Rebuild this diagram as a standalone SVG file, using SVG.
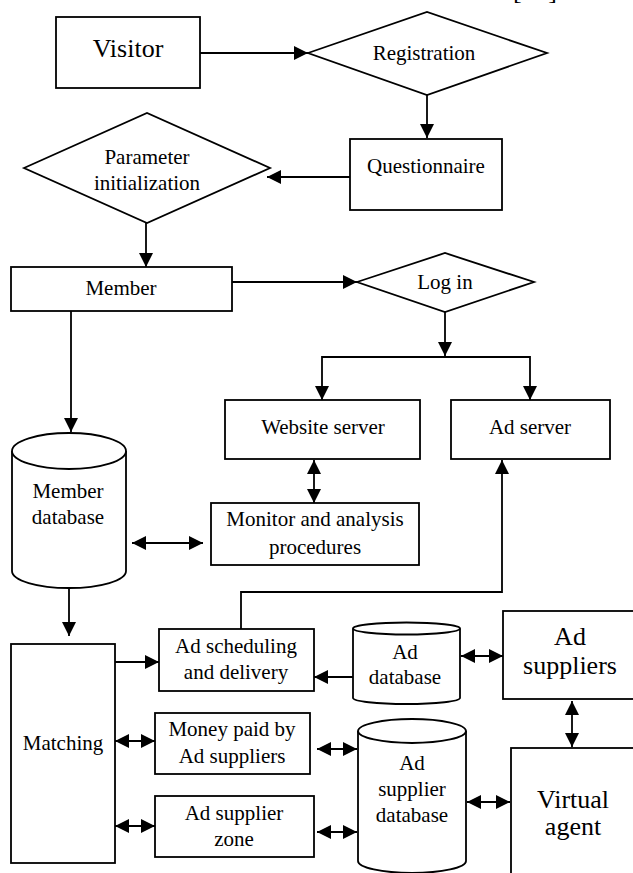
<svg xmlns="http://www.w3.org/2000/svg" width="633" height="873" viewBox="0 0 633 873">
<style>
.s{fill:#fff;stroke:#000;stroke-width:1.8}
.c{fill:none;stroke:#000;stroke-width:1.8}
text{font-family:"Liberation Serif","Times New Roman","Liberation Sans",serif;font-size:21px;fill:#000;text-anchor:middle}
.b{font-size:26px}
</style>
<defs>
<marker id="a" markerUnits="userSpaceOnUse" markerWidth="14" markerHeight="14" refX="14" refY="7" orient="auto-start-reverse" viewBox="0 0 14 14"><path d="M0,0 L14,7 L0,14 z" fill="#000"/></marker>
</defs>
<text class="b" x="513" y="-1.5" style="text-anchor:start">[</text>
<text class="b" x="557" y="-1.5" style="text-anchor:end">]</text>
<g id="connectors">
<line class="c" x1="200" y1="53" x2="308" y2="53" marker-end="url(#a)"/>
<line class="c" x1="427" y1="95" x2="427" y2="138" marker-end="url(#a)"/>
<line class="c" x1="350" y1="177" x2="267" y2="177" marker-end="url(#a)"/>
<line class="c" x1="146" y1="223" x2="146" y2="267" marker-end="url(#a)"/>
<line class="c" x1="232" y1="282" x2="357" y2="282" marker-end="url(#a)"/>
<line class="c" x1="445" y1="312" x2="445" y2="356" marker-end="url(#a)"/>
<polyline class="c" points="322,400 322,357 530,357 530,400" marker-start="url(#a)" marker-end="url(#a)"/>
<line class="c" x1="71" y1="311" x2="71" y2="432" marker-end="url(#a)"/>
<line class="c" x1="314" y1="460" x2="314" y2="503" marker-start="url(#a)" marker-end="url(#a)"/>
<line class="c" x1="132" y1="543" x2="203" y2="543" marker-start="url(#a)" marker-end="url(#a)"/>
<polyline class="c" points="241,629 241,592 502,592 502,460" marker-end="url(#a)"/>
<line class="c" x1="69" y1="588" x2="69" y2="636" marker-end="url(#a)"/>
<line class="c" x1="115" y1="662" x2="159" y2="662" marker-end="url(#a)"/>
<line class="c" x1="353" y1="677" x2="314" y2="677" marker-end="url(#a)"/>
<line class="c" x1="461" y1="656" x2="503" y2="656" marker-start="url(#a)" marker-end="url(#a)"/>
<line class="c" x1="572" y1="701" x2="572" y2="747" marker-start="url(#a)" marker-end="url(#a)"/>
<line class="c" x1="115" y1="741" x2="155" y2="741" marker-start="url(#a)" marker-end="url(#a)"/>
<line class="c" x1="317" y1="749" x2="357" y2="749" marker-start="url(#a)" marker-end="url(#a)"/>
<line class="c" x1="115" y1="826" x2="155" y2="826" marker-start="url(#a)" marker-end="url(#a)"/>
<line class="c" x1="317" y1="832" x2="357" y2="832" marker-start="url(#a)" marker-end="url(#a)"/>
<line class="c" x1="467" y1="802" x2="510" y2="802" marker-start="url(#a)" marker-end="url(#a)"/>
</g>
<g id="visitor"><rect class="s" x="56" y="17" width="144" height="71"/><text class="b" x="128" y="57">Visitor</text></g>
<g id="registration"><polygon class="s" points="308,53 427,12 547,53 427,95"/><text x="424" y="60">Registration</text></g>
<g id="questionnaire"><rect class="s" x="350" y="139" width="152" height="71"/><text x="426" y="173">Questionnaire</text></g>
<g id="parameter"><polygon class="s" points="24,168 147,113 270,168 147,223"/><text x="147" y="164">Parameter</text><text x="147" y="190">initialization</text></g>
<g id="member"><rect class="s" x="11" y="267" width="221" height="44"/><text x="121" y="295">Member</text></g>
<g id="login"><polygon class="s" points="357,282 445,253 534,282 445,312"/><text x="445" y="289">Log in</text></g>
<g id="website"><rect class="s" x="225" y="400" width="195" height="59"/><text x="323" y="434">Website server</text></g>
<g id="adserver"><rect class="s" x="451" y="400" width="159" height="59"/><text x="530" y="434">Ad server</text></g>
<g id="memberdb"><path class="s" d="M12,451 L12,571 A57,17 0 0 0 126,571 L126,451"/><ellipse class="s" cx="69" cy="451" rx="57" ry="18"/><text x="68" y="498">Member</text><text x="68" y="524">database</text></g>
<g id="monitor"><rect class="s" x="211" y="503" width="208" height="62"/><text x="315" y="526">Monitor and analysis</text><text x="315" y="554">procedures</text></g>
<g id="matching"><rect class="s" x="11" y="644" width="104" height="219"/><text x="63" y="750">Matching</text></g>
<g id="adscheduling"><rect class="s" x="159" y="629" width="155" height="62"/><text x="236" y="653">Ad scheduling</text><text x="236" y="679">and delivery</text></g>
<g id="addb"><path class="s" d="M353,628.5 L353,698 A53.5,6 0 0 0 460,698 L460,628.5"/><ellipse class="s" cx="406.5" cy="628.5" rx="53.5" ry="6"/><text x="405" y="659">Ad</text><text x="405" y="684">database</text></g>
<g id="adsuppliers"><rect class="s" x="503" y="611" width="140" height="88"/><text class="b" x="570" y="645">Ad</text><text class="b" x="570" y="674">suppliers</text></g>
<g id="money"><rect class="s" x="155" y="713" width="155" height="61"/><text x="232" y="736">Money paid by</text><text x="232" y="763">Ad suppliers</text></g>
<g id="zone"><rect class="s" x="155" y="796" width="159" height="61"/><text x="234" y="820">Ad supplier</text><text x="234" y="846">zone</text></g>
<g id="adsupplierdb"><path class="s" d="M358,731 L358,861 A54,12 0 0 0 466,861 L466,731"/><ellipse class="s" cx="412" cy="731" rx="54" ry="12"/><text x="412" y="770">Ad</text><text x="412" y="796">supplier</text><text x="412" y="822">database</text></g>
<g id="virtualagent"><rect class="s" x="511" y="748" width="132" height="135"/><text class="b" x="573" y="808">Virtual</text><text class="b" x="573" y="835">agent</text></g>
</svg>
